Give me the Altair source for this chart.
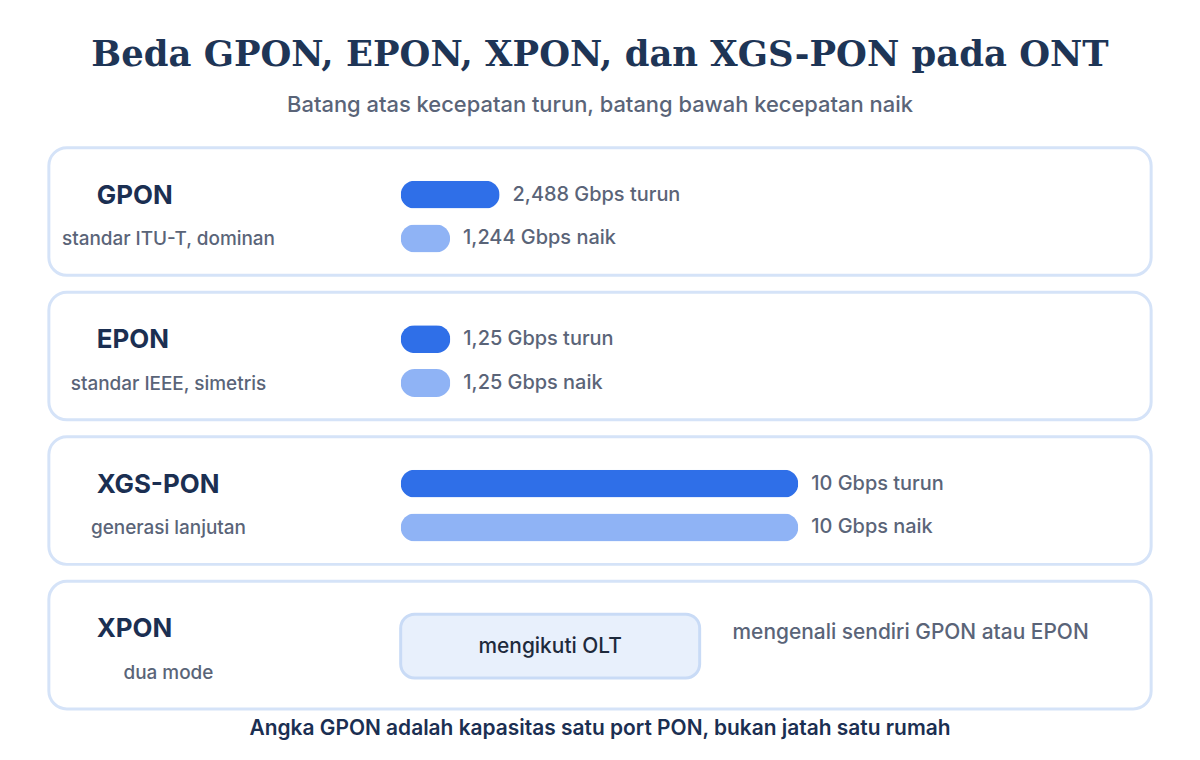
import altair as alt
import pandas as pd

# ---- data ----
protokol = ["GPON", "EPON", "XGS-PON", "XPON"]
keterangan = ["standar ITU-T, dominan", "standar IEEE, simetris", "generasi lanjutan", "dua mode"]
kecepatan_turun = [2.488, 1.25, 10]
kecepatan_naik = [1.244, 1.25, 10]
arah = ["turun", "naik"]
xpon_kotak = "mengikuti OLT"
xpon_catatan = "mengenali sendiri GPON atau EPON"
judul = "Beda GPON, EPON, XPON, dan XGS-PON pada ONT"
subjudul = "Batang atas kecepatan turun, batang bawah kecepatan naik"
catatan_kaki = "Angka GPON adalah kapasitas satu port PON, bukan jatah satu rumah"

SANS = "Inter"
NAVY = "#1b2f52"
GRAY = "#5a6478"
BLUE = "#2f6fe8"
LIGHT = "#8fb3f5"
BORDER = "#d5e3f8"


def fmt(v):
    return f"{v:g}".replace(".", ",")


rows = []
for i in range(3):
    rows.append({"protokol": protokol[i], "arah": "turun", "nilai": kecepatan_turun[i],
                 "label": f"{fmt(kecepatan_turun[i])} Gbps turun"})
    rows.append({"protokol": protokol[i], "arah": "naik", "nilai": kecepatan_naik[i],
                 "label": f"{fmt(kecepatan_naik[i])} Gbps naik"})
bars = pd.DataFrame(rows)

W, H = 1106, 128


def card(i):
    info = pd.DataFrame({"nama": [protokol[i]], "ket": [keterangan[i]]})
    base = alt.Chart(info)
    nm = base.mark_text(align="left", baseline="middle", font=SANS, fontSize=26,
                        fontWeight="bold", color=NAVY).encode(
        x=alt.value(48), y=alt.value(48), text="nama:N")
    ds = base.mark_text(align="center", baseline="middle", font=SANS, fontSize=19,
                        fontWeight=500, color=GRAY).encode(
        x=alt.value(120), y=alt.value(92), text="ket:N")
    layers = [nm, ds]
    if i < 3:
        bdf = bars[bars.protokol == protokol[i]]
        xs = alt.X("nilai:Q", scale=alt.Scale(domain=[0, 10], range=[353, 752]), axis=None)
        ys = alt.Y("arah:N", scale=alt.Scale(type="point", domain=arah, range=[47, 91], padding=0),
                   axis=None)
        b = alt.Chart(bdf).mark_bar(height=28, cornerRadius=14).encode(
            x=xs, y=ys,
            color=alt.Color("arah:N", scale=alt.Scale(domain=arah, range=[BLUE, LIGHT]), legend=None))
        t = alt.Chart(bdf).mark_text(align="left", baseline="middle", dx=13, font=SANS,
                                     fontSize=20, fontWeight=500, color=GRAY).encode(
            x=xs, y=ys, text="label:N")
        layers += [b, t]
    else:
        info2 = pd.DataFrame({"kotak": [xpon_kotak], "catatan": [xpon_catatan], "kaki": [catatan_kaki]})
        b2 = alt.Chart(info2)
        box = b2.mark_rect(fill="#e8f0fc", stroke="#c9dbf6", strokeWidth=3, cornerRadius=14).encode(
            x=alt.value(353), x2=alt.value(653), y=alt.value(33), y2=alt.value(97))
        bt = b2.mark_text(align="center", baseline="middle", font=SANS, fontSize=21,
                          fontWeight=500, color="#1e2a3c").encode(
            x=alt.value(503), y=alt.value(66), text="kotak:N")
        ct = b2.mark_text(align="left", baseline="middle", font=SANS, fontSize=21,
                          fontWeight=500, color=GRAY).encode(
            x=alt.value(686), y=alt.value(52), text="catatan:N")
        ft = b2.mark_text(align="center", baseline="middle", font=SANS, fontSize=21,
                          fontWeight=600, color=NAVY).encode(
            x=alt.value(553), y=alt.value(148), text="kaki:N")
        layers += [box, bt, ct, ft]
    return alt.layer(*layers).properties(width=W, height=H)


chart = alt.vconcat(*[card(i) for i in range(4)], spacing=13).resolve_scale(
    x="independent", y="independent", color="independent"
).properties(
    title=alt.TitleParams(judul, subtitle=subjudul, anchor="middle", font="DejaVu Serif",
                          fontSize=35.5, fontWeight="bold", color="#1e3556",
                          subtitleFont=SANS, subtitleFontSize=22, subtitleFontWeight=500,
                          subtitleColor=GRAY, subtitlePadding=22, offset=30),
    padding={"left": 39, "right": 39, "top": 29, "bottom": 10},
    background="white",
).configure_view(
    stroke=BORDER, strokeWidth=3, cornerRadius=18, fill="white"
)

chart.save("out.html", embed_options={"renderer": "svg", "actions": False})
